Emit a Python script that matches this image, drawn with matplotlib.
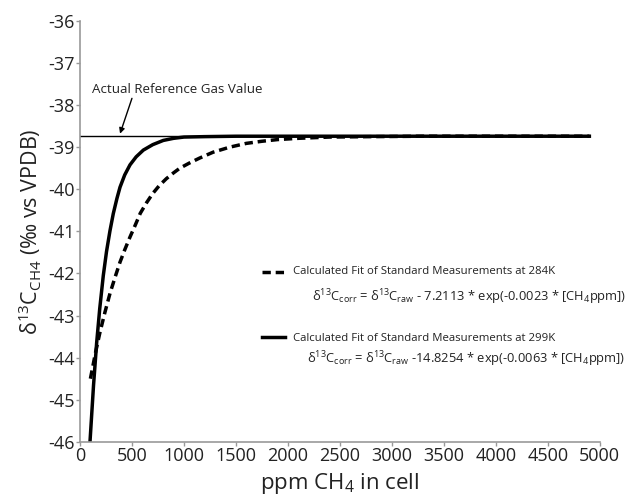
import matplotlib
matplotlib.use("Agg")
import matplotlib.pyplot as plt

plt.rcParams['font.family'] = ['Open Sans', 'DejaVu Sans']
plt.rcParams['mathtext.fontset'] = 'custom'
plt.rcParams['mathtext.rm'] = 'Open Sans'
plt.rcParams['mathtext.it'] = 'Open Sans:italic'

# Reference gas value
ref_value = -38.74
ref_x = [0, 4900]

# Fit at 284K (dashed)
x_284 = [100, 150, 190, 240, 290, 340, 385, 430, 480, 530, 580, 640, 700, 760, 830, 900,
         960, 1050, 1150, 1280, 1440, 1600, 1750, 1900, 2100, 2400, 2800, 3300, 4900]
y_284 = [-44.50, -43.87, -43.42, -42.92, -42.46, -42.07, -41.73, -41.44, -41.14, -40.86,
         -40.57, -40.32, -40.10, -39.92, -39.75, -39.61, -39.50, -39.38, -39.26, -39.12,
         -39.00, -38.91, -38.86, -38.82, -38.79, -38.76, -38.75, -38.74, -38.74]

# Fit at 299K (solid)
x_299 = [96, 130, 160, 190, 224, 255, 288, 320, 355, 385, 430, 481, 540, 609, 700, 801,
         900, 1000, 1200, 1500, 4900]
y_299 = [-46.00, -44.66, -43.65, -42.83, -42.05, -41.48, -40.99, -40.58, -40.22, -39.95,
         -39.66, -39.42, -39.23, -39.07, -38.94, -38.84, -38.79, -38.76, -38.75, -38.74,
         -38.74]

x_ticks = [0, 500, 1000, 1500, 2000, 2500, 3000, 3500, 4000, 4500, 5000]
y_ticks = [-46, -45, -44, -43, -42, -41, -40, -39, -38, -37, -36]

DASH = (0, (2.4, 1.4))

fig = plt.figure(figsize=(6.3, 4.97), dpi=100)
ax = fig.add_axes([0.127, 0.111, 0.825, 0.847])

ax.plot(ref_x, [ref_value, ref_value], color='black', lw=1.0)
ax.plot(x_284, y_284, color='black', lw=2.5, ls=DASH, solid_capstyle='butt')
ax.plot(x_299, y_299, color='black', lw=2.5)

ax.set_xlim(0, 5000)
ax.set_ylim(-46, -36)
ax.set_xticks(x_ticks)
ax.set_yticks(y_ticks)
ax.set_xticklabels([str(v) for v in x_ticks])
ax.set_yticklabels([str(v) for v in y_ticks])

for s in ['top', 'right']:
    ax.spines[s].set_visible(False)
for s in ['left', 'bottom']:
    ax.spines[s].set_color('#999999')
    ax.spines[s].set_linewidth(1.2)
ax.tick_params(axis='both', colors='#999999', labelcolor='#222222', labelsize=13,
               length=3, width=1, direction='out', pad=1)

ax.set_xlabel(r'ppm CH$_4$ in cell', fontsize=16, color='#222222', labelpad=4)
ax.set_ylabel(r'δ$^{13}$C$_{\mathrm{CH4}}$ (‰ vs VPDB)', fontsize=15.5, color='#222222',
              labelpad=3)

ax.annotate('Actual Reference Gas Value', xy=(385, -38.68), xytext=(115, -37.62),
            fontsize=9.6, color='#222222', va='center', ha='left',
            arrowprops=dict(arrowstyle='-|>', color='black', lw=1, mutation_scale=8,
                            shrinkA=0, shrinkB=0, relpos=(0.24, 0.0)))

# Legend-like annotations
ax.plot([1750, 1971], [-41.96, -41.96], color='black', lw=2.5, ls=DASH,
        solid_capstyle='butt')
ax.text(2048, -41.96, 'Calculated Fit of Standard Measurements at 284K', fontsize=8.2,
        va='center', ha='left', color='#222222')
ax.text(2231, -42.56,
        r'δ$^{13}$C$_{\mathrm{corr}}$ = δ$^{13}$C$_{\mathrm{raw}}$ - 7.2113 * exp(-0.0023 * [CH$_4$ppm])',
        fontsize=9.3, va='center', ha='left', color='#222222')

ax.plot([1750, 1971], [-43.52, -43.52], color='black', lw=2.5)
ax.text(2048, -43.54, 'Calculated Fit of Standard Measurements at 299K', fontsize=8.2,
        va='center', ha='left', color='#222222')
ax.text(2183, -44.04,
        r'δ$^{13}$C$_{\mathrm{corr}}$ = δ$^{13}$C$_{\mathrm{raw}}$ -14.8254 * exp(-0.0063 * [CH$_4$ppm])',
        fontsize=9.3, va='center', ha='left', color='#222222')

fig.savefig('out.png', dpi=100)
